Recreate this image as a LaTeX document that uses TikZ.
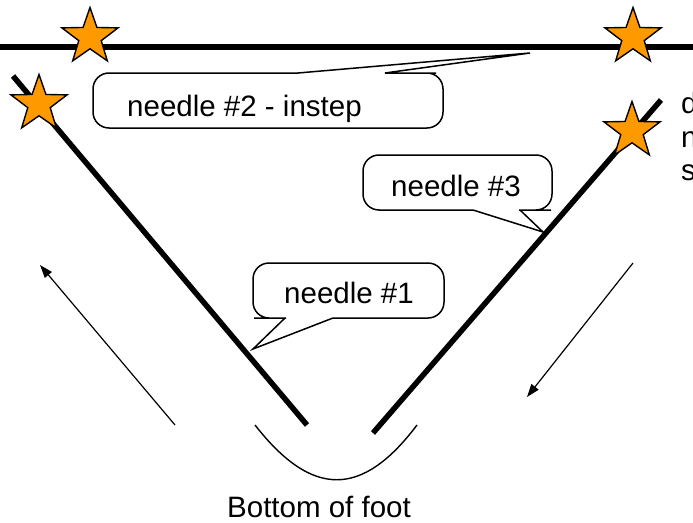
\documentclass[tikz,border=0pt]{standalone}
\usepackage{fontspec}
\setmainfont{Liberation Sans}
\usetikzlibrary{shapes.geometric,arrows.meta}
\definecolor{starorange}{RGB}{255,153,0}
\tikzset{
  needleline/.style={line width=5.5pt},
  thinarrow/.style={line width=1.2pt,-{Triangle[length=13pt,width=9pt]}},
  callout/.style={line width=1.5pt,fill=white},
  staricon/.style={star,star points=5,star point ratio=2.5,minimum size=59pt,inner sep=0pt,draw=black,line width=1.4pt,fill=starorange},
  lbl/.style={font=\fontsize{29.5}{34}\selectfont,inner sep=0pt,anchor=base west}
}
\begin{document}
\begin{tikzpicture}[x=1pt,y=-1pt]
\useasboundingbox (0,0) rectangle (693,522);
% coordinates
\coordinate (topL) at (0,47);
\coordinate (topR) at (693,47);
\coordinate (n1top) at (13,76);
\coordinate (n1bot) at (307,425);
\coordinate (n3top) at (661,100);
\coordinate (n3bot) at (373,433);
\coordinate (a1s) at (175,425);
\coordinate (a1e) at (40,265);
\coordinate (a2s) at (633,263);
\coordinate (a2e) at (527,397);
\coordinate (footL) at (255,425);
\coordinate (footR) at (417,425);
% main lines
\draw[needleline] (topL) -- (topR);
\draw[needleline] (n1top) -- (n1bot);
\draw[needleline] (n3top) -- (n3bot);
% arrows
\draw[thinarrow] (a1s) -- (a1e);
\draw[thinarrow] (a2s) -- (a2e);
% foot curve
\draw[line width=1.4pt] (footL) .. controls (312,498) and (362,498) .. (footR);
% stars
\node[staricon] (s1) at (90,37) {};
\node[staricon] (s2) at (633,37) {};
\node[staricon] (s3) at (39,104) {};
\node[staricon] (s4) at (632,131) {};
% callout needle #2
\draw[callout,rounded corners=16pt] (200,73) -- (93,73) -- (93,128) -- (443,128) -- (443,73) -- (420,73)
  [sharp corners] -- (385,73) -- (530,53) -- (298,73) -- (260,73) [rounded corners=16pt] -- cycle;
% callout needle #1
\draw[callout,rounded corners=16pt] (400,318) -- (444,318) -- (444,263) -- (253,263) -- (253,318) -- (270,318)
  [sharp corners] -- (285,318) -- (253,349) -- (333,318) -- (360,318) [rounded corners=16pt] -- cycle;
% callout needle #3
\draw[callout,rounded corners=16pt] (420,210) -- (363,210) -- (363,155) -- (552,155) -- (552,210) -- (535,210)
  [sharp corners] -- (520,210) -- (543,232) -- (473,210) -- (450,210) [rounded corners=16pt] -- cycle;
% labels
\node[lbl] (t2) at (127,116) {needle \#2 - instep};
\node[lbl] (t3) at (391,196) {needle \#3};
\node[lbl] (t1) at (284,303) {needle \#1};
\node[lbl] (tf) at (227,517) {Bottom of foot};
\node[lbl] (rd) at (681,113) {d};
\node[lbl] (rn) at (681,147) {n};
\node[lbl] (rs) at (681,180) {s};
\end{tikzpicture}
\end{document}
